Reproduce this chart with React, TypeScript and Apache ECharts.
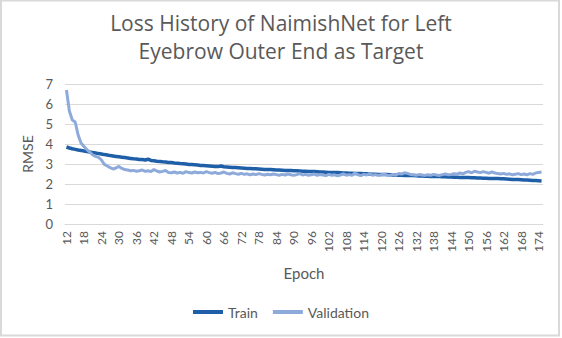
import React, { useEffect, useRef } from "react";
import * as echarts from "echarts";

const titleText = "Loss History of NaimishNet for Left\nEyebrow Outer End as Target";

const epochs: string[] = [];
for (let e = 12; e <= 175; e++) epochs.push(String(e));

const trainLoss = [
  3.85, 3.8, 3.76, 3.73, 3.7, 3.68, 3.65, 3.62, 3.6, 3.57, 3.55, 3.52,
  3.5, 3.47, 3.45, 3.42, 3.4, 3.38, 3.36, 3.34, 3.32, 3.3, 3.28, 3.26,
  3.25, 3.23, 3.22, 3.2, 3.24, 3.18, 3.16, 3.14, 3.13, 3.11, 3.1, 3.08,
  3.07, 3.05, 3.04, 3.02, 3.01, 3.0, 2.98, 2.97, 2.96, 2.95, 2.93, 2.92,
  2.91, 2.9, 2.89, 2.88, 2.87, 2.9, 2.86, 2.85, 2.84, 2.83, 2.82, 2.81,
  2.8, 2.79, 2.78, 2.77, 2.76, 2.76, 2.75, 2.74, 2.73, 2.73, 2.72, 2.71,
  2.7, 2.7, 2.69, 2.68, 2.68, 2.67, 2.66, 2.66, 2.65, 2.64, 2.64, 2.63,
  2.62, 2.62, 2.61, 2.6, 2.6, 2.59, 2.58, 2.58, 2.57, 2.57, 2.56, 2.55,
  2.55, 2.54, 2.54, 2.53, 2.52, 2.52, 2.51, 2.51, 2.5, 2.49, 2.49, 2.48,
  2.48, 2.47, 2.47, 2.46, 2.45, 2.45, 2.44, 2.44, 2.43, 2.43, 2.42, 2.42,
  2.41, 2.4, 2.4, 2.39, 2.39, 2.38, 2.38, 2.37, 2.37, 2.36, 2.36, 2.35,
  2.35, 2.34, 2.34, 2.33, 2.33, 2.32, 2.32, 2.31, 2.31, 2.3, 2.3, 2.29,
  2.29, 2.28, 2.28, 2.27, 2.27, 2.26, 2.26, 2.25, 2.24, 2.23, 2.22, 2.22,
  2.21, 2.2, 2.2, 2.19, 2.18, 2.17, 2.16, 2.15,
];

const validationLoss = [
  6.7, 5.65, 5.2, 5.1, 4.45, 4.05, 3.88, 3.72, 3.6, 3.45, 3.38, 3.33,
  3.2, 2.98, 2.9, 2.82, 2.75, 2.8, 2.88, 2.78, 2.72, 2.7, 2.66, 2.68,
  2.64, 2.66, 2.7, 2.63, 2.66, 2.62, 2.72, 2.65, 2.6, 2.63, 2.68, 2.58,
  2.56, 2.6, 2.55, 2.58, 2.54, 2.62, 2.57, 2.55, 2.6, 2.56, 2.58, 2.55,
  2.62, 2.57, 2.54, 2.58, 2.52, 2.55, 2.6, 2.53, 2.5, 2.56, 2.52, 2.49,
  2.53, 2.48, 2.51, 2.46, 2.5, 2.47, 2.52, 2.48, 2.45, 2.49, 2.46, 2.5,
  2.47, 2.44, 2.48, 2.45, 2.5, 2.46, 2.43, 2.47, 2.52, 2.45, 2.48, 2.44,
  2.46, 2.5, 2.43, 2.47, 2.45, 2.42, 2.48, 2.44, 2.46, 2.41, 2.45, 2.5,
  2.44, 2.47, 2.43, 2.55, 2.46, 2.42, 2.48, 2.45, 2.52, 2.44, 2.47, 2.43,
  2.46, 2.49, 2.44, 2.42, 2.48, 2.45, 2.52, 2.5, 2.56, 2.53, 2.48, 2.46,
  2.44, 2.47, 2.45, 2.43, 2.46, 2.44, 2.48, 2.45, 2.43, 2.47, 2.5, 2.46,
  2.48, 2.52, 2.49, 2.55, 2.51, 2.58, 2.62, 2.56, 2.64, 2.6, 2.57, 2.62,
  2.58, 2.54, 2.6, 2.55, 2.52, 2.5, 2.53, 2.48, 2.51, 2.46, 2.49, 2.52,
  2.47, 2.5, 2.46, 2.52, 2.48, 2.55, 2.58, 2.6,
];

const FONT = "Lato";
const TITLE_FONT = "Open Sans";
const TEXT = "#595959";

export default function App() {
  const ref = useRef<HTMLDivElement>(null);
  useEffect(() => {
    if (!ref.current) return;
    const chart = echarts.init(ref.current, null, { renderer: "svg" });
    chart.setOption({
      animation: false,
      backgroundColor: "#ffffff",
      textStyle: { fontFamily: FONT, color: TEXT },
      graphic: [
        {
          type: "rect",
          shape: { x: 1, y: 0.5, width: 558, height: 335 },
          style: { fill: "none", stroke: "#d9d9d9", lineWidth: 2 },
          silent: true,
        },
      ],
      title: {
        text: titleText,
        left: "center",
        top: 4,
        textStyle: {
          fontFamily: TITLE_FONT,
          fontSize: 21,
          fontWeight: "normal",
          color: TEXT,
          lineHeight: 28,
        },
      },
      legend: {
        bottom: 14,
        left: "center",
        icon: "rect",
        itemWidth: 30,
        itemHeight: 4,
        itemGap: 15,
        textStyle: { fontFamily: FONT, fontSize: 14, color: TEXT },
        data: ["Train", "Validation"],
      },
      grid: { left: 65, right: 19, top: 84, bottom: 114, containLabel: false },
      xAxis: {
        type: "category",
        data: epochs,
        boundaryGap: true,
        name: "Epoch",
        nameLocation: "middle",
        nameGap: 41,
        nameTextStyle: { fontFamily: FONT, fontSize: 15, color: TEXT },
        axisLine: { lineStyle: { color: "#d9d9d9", width: 1 } },
        axisTick: { show: false },
        axisLabel: {
          interval: 5,
          rotate: 90,
          fontFamily: FONT,
          fontSize: 12,
          color: TEXT,
          margin: 7,
        },
      },
      yAxis: {
        type: "value",
        min: 0,
        max: 7,
        interval: 1,
        name: "RMSE",
        nameLocation: "middle",
        nameRotate: 90,
        nameGap: 31,
        nameTextStyle: { fontFamily: FONT, fontSize: 14, color: TEXT },
        axisLine: { show: false },
        axisTick: { show: false },
        splitLine: { lineStyle: { color: "#d9d9d9", width: 1 } },
        axisLabel: { fontFamily: FONT, fontSize: 13, color: TEXT, margin: 12 },
      },
      series: [
        {
          name: "Train",
          type: "line",
          data: trainLoss,
          showSymbol: false,
          symbol: "none",
          lineStyle: { color: "#1f5fa8", width: 3.5 },
          itemStyle: { color: "#1f5fa8" },
          z: 2,
        },
        {
          name: "Validation",
          type: "line",
          data: validationLoss,
          showSymbol: false,
          symbol: "none",
          lineStyle: { color: "#8eaadb", width: 3 },
          itemStyle: { color: "#8eaadb" },
          z: 3,
        },
      ],
    });
    return () => chart.dispose();
  }, []);
  return (
    <div
      ref={ref}
      style={{ position: "fixed", left: 0, top: 0, width: 562, height: 338 }}
    />
  );
}
